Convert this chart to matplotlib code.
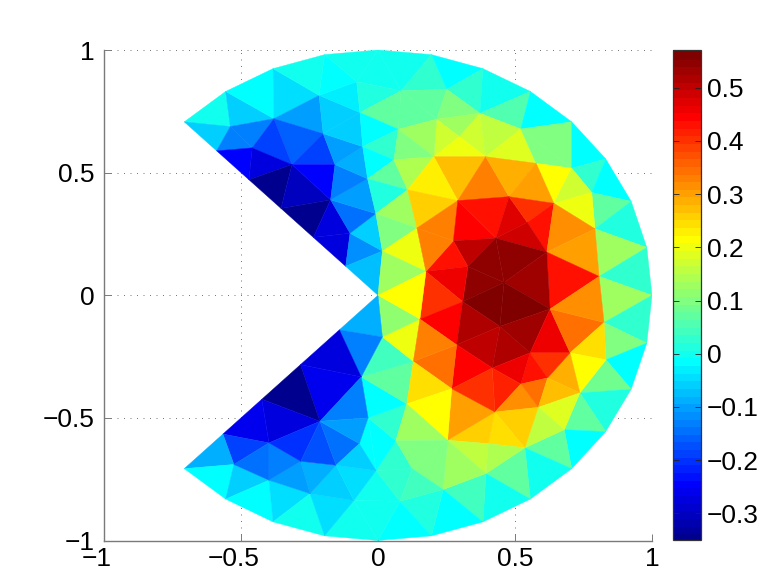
import numpy as np
import matplotlib
matplotlib.use("Agg")
import matplotlib.pyplot as plt
from matplotlib.colors import LinearSegmentedColormap, Normalize
from matplotlib.cm import ScalarMappable
from matplotlib.transforms import ScaledTranslation
from matplotlib.tri import Triangulation

plt.rcParams["font.family"] = ["Liberation Sans", "DejaVu Sans"]

# mesh nodes: outer arc, slit edges, then interior points
node_x = [
    -.707, -.556, -.383, -.195, 0, .195, .383, .556, .707, .831, .924, .981, 1,
    .981, .924, .831, .707, .556, .383, .195, 0, -.195, -.383, -.556, -.707,
    .065, -.566, -.424, -.283, -.141, 0, -.118, -.236, -.354, -.471, -.589,
    -.539, -.459, -.38, -.314, -.215, -.2, -.157, -.173, -.102, -.078, -.066,
    -.056, -.038, -.008, .016, .084, .074, .058, .108, .142, .175, .251, .214,
    .372, .521, .297, .204, .393, .577, .707, .78, .792, .807, .642, .478, .291,
    .275, .43, .545, .616, .328, .46, .309, .153, .445, .628, .825, .287, .555,
    .701, .417, .521, .619, .269, .427, .585, .737, .832, .129, .105, .254, .68,
    .536, .403, .394, .238, .125, .08, -.526, -.398, -.398, -.282, -.248, -.153,
    -.088, -.212, -.068, -.036, -.061, .016, -.007,
]
node_y = [
    .707, .831, .924, .981, 1, .981, .924, .831, .707, .556, .383, .195, 0,
    -.195, -.383, -.556, -.707, -.831, -.924, -.981, -1, -.981, -.924, -.831, -.707,
    -.593, -.566, -.424, -.283, -.141, 0, .118, .236, .354, .471, .589,
    .688, .601, .72, .533, .815, .659, .533, .389, .253, .871, .745,
    .606, .475, .333, .18, .834, .677, .552, .43, .274, .097, .84, .718,
    .742, .678, .647, .565, .565, .538, .518, .419, .271, .077, .375, .402, .386,
    .222, .233, .297, .176, .117, .052, -.026, -.097, -.127, -.056, -.111, -.202, -.235,
    -.235, -.297, -.362, -.337, -.381, -.476, -.457, -.398, -.263, -.27, -.443, -.591, -.548,
    -.622, -.605, -.727, -.792, -.707, -.84, -.69, -.602, -.754, -.677, -.809, -.693,
    -.837, -.514, -.605, -.5, -.333, -.17, -.715,
]

# triangles and the value on each one
tri_upper_left = [
    (0, 1, 36), (0, 36, 35), (35, 36, 37), (36, 1, 38), (36, 38, 37), (1, 2, 38),
    (2, 40, 38), (38, 40, 41), (38, 41, 39), (38, 39, 37), (35, 37, 34), (34, 37, 39),
    (34, 39, 33), (33, 39, 43), (33, 43, 32), (39, 41, 42), (39, 42, 43), (32, 43, 44),
    (32, 44, 31), (31, 44, 50), (31, 50, 30), (44, 49, 50), (43, 49, 44), (43, 48, 49),
    (42, 48, 43), (42, 47, 48), (41, 47, 42), (41, 46, 47), (40, 46, 41), (40, 45, 46),
    (3, 45, 40), (2, 3, 40), (3, 4, 45), (4, 51, 45), (45, 51, 46), (46, 51, 52),
    (46, 52, 47), (47, 52, 53), (47, 53, 48), (48, 53, 54), (48, 54, 49), (49, 54, 55),
    (49, 55, 50), (50, 55, 56), (50, 56, 30),
]
val_upper_left = [
    .008, -.06, -.125, -.06, -.12, -.017,
    -.042, -.095, -.155, -.185, -.245, -.27,
    -.345, -.305, -.345, -.19, -.245, -.265,
    -.265, -.115, -.072, -.057, -.135, -.095,
    -.125, -.077, -.105, -.062, -.062, -.032,
    -.017, .003, .008, .008, .018, .068,
    -.012, .038, -.017, .073, .018, .138,
    .098, .21, .128,
]
tri_rim = [
    (4, 5, 51), (5, 57, 51), (5, 6, 57), (6, 59, 57), (6, 7, 59), (7, 60, 59),
    (7, 8, 60), (8, 65, 60), (8, 9, 65), (9, 66, 65), (9, 10, 66), (10, 67, 66),
    (10, 11, 67), (11, 68, 67), (11, 12, 68), (68, 12, 82), (12, 13, 82), (13, 93, 82),
    (13, 14, 93), (14, 92, 93), (14, 15, 92), (15, 97, 92), (15, 16, 97), (16, 98, 97),
    (16, 17, 98), (17, 100, 98), (17, 18, 100), (18, 101, 100), (18, 19, 101), (19, 103, 101),
    (19, 20, 103),
]
val_rim = [
    .008, .028, -.007, .033, .008, .063,
    -.007, .098, -.007, .038, -.017, .078,
    .013, .128, .028, .128, .033, .098,
    -.007, .088, .023, .073, -.007, .073,
    .008, .073, .008, .048, -.007, .023,
    -.007,
]
tri_lower_left = [
    (20, 110, 103), (21, 20, 110), (110, 103, 116), (116, 102, 103), (116, 25, 102),
    (113, 112, 116), (113, 116, 25), (113, 25, 95), (113, 95, 114), (114, 95, 94),
    (114, 94, 115), (115, 94, 79), (115, 79, 30), (29, 115, 30), (29, 114, 115),
    (28, 114, 29), (28, 111, 114), (111, 113, 114), (27, 111, 28), (27, 105, 111),
    (26, 105, 27), (26, 104, 105), (24, 104, 26), (24, 23, 104), (23, 106, 104),
    (23, 22, 106), (22, 108, 106), (22, 21, 108), (21, 110, 108), (108, 110, 109),
    (108, 109, 107), (106, 108, 107), (104, 106, 105), (105, 106, 107), (105, 107, 111),
    (107, 109, 111), (111, 109, 112), (111, 112, 113), (109, 110, 116), (109, 116, 112),
]
val_lower_left = [
    .008, .008, .008, .028, .038,
    -.012, -.007, .038, -.007, .078,
    .043, .2, .118, -.08, -.12,
    -.27, -.25, -.13, -.345, -.275,
    -.26, -.19, -.08, -.007, -.052,
    -.017, -.047, .003, -.042, -.062,
    -.08, -.1, -.145, -.13, -.2,
    -.175, -.14, -.105, -.042, -.062,
]
tri_centre = [
    (51, 57, 58), (51, 58, 52), (57, 59, 58), (58, 59, 61), (59, 63, 61), (59, 60, 63),
    (60, 64, 63), (60, 65, 64), (64, 65, 69), (65, 66, 69), (69, 66, 67), (58, 61, 62),
    (52, 58, 62), (52, 62, 53), (61, 63, 62), (62, 63, 71), (63, 70, 71), (63, 64, 70),
    (64, 69, 70), (53, 62, 54), (54, 62, 71), (54, 71, 55), (55, 71, 72), (71, 73, 72),
    (71, 70, 73), (70, 74, 73), (70, 69, 74), (69, 75, 74), (73, 74, 75), (69, 67, 75),
    (67, 68, 75), (75, 68, 81), (72, 73, 76), (73, 75, 77), (75, 81, 77), (73, 77, 76),
    (76, 77, 78), (77, 78, 80), (77, 81, 80), (72, 76, 56), (55, 72, 56), (76, 78, 56),
    (56, 78, 79), (30, 56, 79), (79, 78, 83), (78, 80, 83), (80, 86, 83), (80, 84, 86),
    (80, 81, 84), (81, 85, 84), (81, 82, 85), (68, 82, 81), (82, 93, 85), (85, 93, 92),
    (85, 92, 88), (84, 85, 88), (84, 88, 87), (84, 87, 86), (86, 87, 90), (87, 91, 90),
    (87, 88, 91), (88, 92, 91), (91, 92, 97), (91, 97, 98), (90, 91, 98), (90, 98, 99),
    (96, 90, 99), (89, 90, 96), (83, 86, 89), (86, 90, 89), (94, 83, 89), (79, 83, 94),
    (94, 89, 95), (89, 96, 95), (95, 96, 25), (96, 99, 100), (96, 100, 101), (99, 98, 100),
    (25, 96, 102), (96, 101, 102), (102, 101, 103),
]
val_centre = [
    .068, .068, .098, .125, .172, .16,
    .19, .098, .22, .172, .2, .172,
    .125, .098, .21, .28, .33, .29,
    .30, .15, .235, .26, .335, .455,
    .44, .48, .41, .43, .49, .32,
    .31, .43, .51, .555, .54, .555,
    .555, .57, .57, .43, .34, .47,
    .40, .22, .445, .515, .505, .52,
    .535, .46, .355, .32, .25, .22,
    .29, .41, .43, .47, .42, .32,
    .35, .275, .195, .165, .26, .245,
    .26, .30, .455, .40, .35, .33,
    .25, .22, .128, .165, .125, .14,
    .098, .108, .048,
]

triangles = tri_upper_left + tri_rim + tri_lower_left + tri_centre
values = val_upper_left + val_rim + val_lower_left + val_centre
assert len(triangles) == len(values)

x_ticks = [-1, -0.5, 0, 0.5, 1]
x_labels = ["\u22121", "\u22120.5", "0", "0.5", "1"]
y_ticks = [-1, -0.5, 0, 0.5, 1]
y_labels = ["\u22121", "\u22120.5", "0", "0.5", "1"]
cbar_ticks = [-0.3, -0.2, -0.1, 0, 0.1, 0.2, 0.3, 0.4, 0.5]
cbar_labels = ["\u22120.3", "\u22120.2", "\u22120.1", "0", "0.1", "0.2", "0.3", "0.4", "0.5"]

# old MATLAB jet, 64 steps
jet64 = LinearSegmentedColormap.from_list("jet64", [
    (0, (0, 0, .5625)), (7 / 63, (0, 0, 1)), (23 / 63, (0, 1, 1)),
    (39 / 63, (1, 1, 0)), (55 / 63, (1, 0, 0)), (1, (.5, 0, 0)),
], N=64)
norm = Normalize(vmin=-0.35, vmax=0.571)

W, H = 764, 571
FONT = 19
GREY = "#7a7a7a"
fig = plt.figure(figsize=(W / 100, H / 100), dpi=100)
fig.patch.set_facecolor("white")
ax = fig.add_axes([104 / W, 1 - 540.5 / H, 548 / W, 490.5 / H])

tri = Triangulation(np.array(node_x), np.array(node_y), np.array(triangles))
ax.tripcolor(tri, facecolors=np.array(values), cmap=jet64, norm=norm,
             edgecolors="face", linewidth=0.3, zorder=2)

ax.set_xlim(-1, 1)
ax.set_ylim(-1, 1)
ax.set_xticks(x_ticks)
ax.set_xticklabels(x_labels)
ax.set_yticks(y_ticks)
ax.set_yticklabels(y_labels)
ax.tick_params(direction="in", length=5, width=0.7, labelsize=FONT, pad=6.5, color=GREY)
ax.tick_params(axis="x", pad=4.5)
ax.grid(True, linestyle=(0, (1, 5.5)), linewidth=0.72, color=GREY)
ax.set_axisbelow(True)
ax.spines[["top", "right"]].set_visible(False)
for side in ["left", "bottom"]:
    ax.spines[side].set_linewidth(1.0)
    ax.spines[side].set_color(GREY)

# x labels keep the number centred on the tick, the minus hangs to the left
minus_shift = ScaledTranslation(-7.5 / 100, 0, fig.dpi_scale_trans)
for lab in ax.get_xticklabels():
    if lab.get_text().startswith("\u2212"):
        lab.set_transform(lab.get_transform() + minus_shift)

cax = fig.add_axes([672.5 / W, 1 - 540 / H, 28.5 / W, 490 / H])
cb = fig.colorbar(ScalarMappable(norm=norm, cmap=jet64), cax=cax)
cb.set_ticks(cbar_ticks)
cb.set_ticklabels(cbar_labels)
cb.ax.tick_params(direction="in", length=4, width=0.6, labelsize=FONT, pad=4, color="#222222")
cb.ax.tick_params(left=True, which="major")
cb.outline.set_linewidth(0.9)
cb.outline.set_edgecolor("#333333")
cb.solids.set_edgecolor("face")

fig.savefig("out.png", dpi=100)
plt.close(fig)
